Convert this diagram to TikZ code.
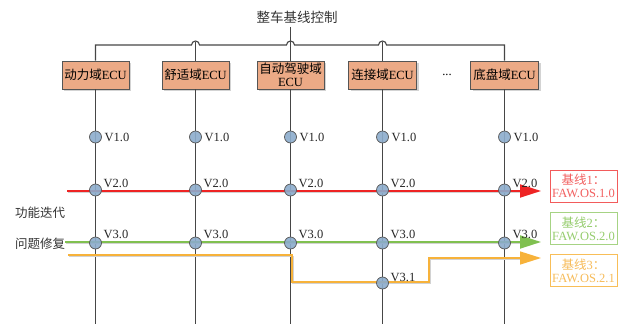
\documentclass[tikz,border=0pt]{standalone}
\usepackage{fontspec}
\setmainfont{Liberation Serif}
\newfontfamily\cjk{Noto Sans CJK SC}
\usetikzlibrary{arrows.meta,shadows}
\definecolor{boxfill}{RGB}{236,170,134}
\definecolor{boxedge}{RGB}{85,85,85}
\definecolor{dotfill}{RGB}{140,172,204}
\definecolor{wirec}{RGB}{70,70,70}
\definecolor{redl}{RGB}{238,36,36}
\definecolor{redt}{RGB}{242,96,96}
\definecolor{greenl}{RGB}{128,192,80}
\definecolor{greent}{RGB}{150,205,110}
\definecolor{orl}{RGB}{247,178,58}
\definecolor{ort}{RGB}{247,188,90}
\tikzset{
  txt/.style={font=\fontsize{12.5}{13}\selectfont},
  ecu/.style={txt, draw=boxedge, fill=boxfill, line width=0.8pt, minimum width=67pt,
    minimum height=28pt, inner sep=0.5pt, align=center,
    drop shadow={shadow xshift=2pt, shadow yshift=-2pt, opacity=0.35, fill=gray}},
  ver/.style={circle, draw=boxedge, line width=0.7pt, fill=dotfill, fill opacity=0.9,
    minimum size=12pt, inner sep=0pt},
  vl/.style={txt, inner sep=0pt, anchor=west, text=black!85},
  wire/.style={draw=wirec, line width=1.1pt},
  basebox/.style={txt, draw, line width=0.9pt, fill=white, minimum width=67pt,
    minimum height=32pt, inner sep=0.5pt, align=center},
  bigtip/.style={-{Triangle[length=21pt,width=13pt]}},
  lshadow/.style={draw=gray!35, line width=1.5pt, transform canvas={xshift=1pt,yshift=-1.5pt}},
}
\begin{document}
\begin{tikzpicture}[x=1pt,y=-1pt]
\useasboundingbox (0,0) rectangle (623,324);
% title
\node[font=\fontsize{13.5}{14}\selectfont\cjk, text=black!80] (title) at (297,17) {整车基线控制};
% ECU boxes
\node[ecu] (e1) at (95.5,75) {{\cjk 动力域}ECU};
\node[ecu] (e2) at (195.5,75) {{\cjk 舒适域}ECU};
\node[ecu] (e3) at (290.5,75) {{\cjk 自动驾驶域}\\ECU};
\node[ecu, minimum width=68pt] (e4) at (382.5,75) {{\cjk 连接域}ECU};
\node[ecu, minimum width=68pt] (e5) at (504.5,75) {{\cjk 底盘域}ECU};
\node[txt] (dots) at (447,75) {...};
% bus with hops
\coordinate (h2a) at (191.5,45); \coordinate (h3a) at (286.5,45); \coordinate (h4a) at (378.5,45);
\draw[wire] (e1.north) -- (e1.north |- h2a) -- (h2a) arc[start angle=180,end angle=360,radius=4]
  -- (h3a) arc[start angle=180,end angle=360,radius=4]
  -- (h4a) arc[start angle=180,end angle=360,radius=4]
  -- (e5.north |- h2a) -- (e5.north);
\draw[wire] (e2.north) -- ([yshift=3.5pt]e2.north |- h2a);
\draw[wire] (e4.north) -- ([yshift=3.5pt]e4.north |- h4a);
\draw[wire] (title.south -| e3.north) -- (e3.north);
% vertical lines
\foreach \i in {1,...,5} {
  \coordinate (bot\i) at (e\i.south |- 0,324);
  \draw[wire] (e\i.south) -- (bot\i);
}
% end points and baseline boxes
\node[basebox, draw=redl!75, text=redt] (b1) at (583.5,186) {{\cjk 基线}1{\cjk ：}\\FAW.OS.1.0};
\node[basebox, draw=greenl!70, text=greent] (b2) at (583.5,228.5) {{\cjk 基线}2{\cjk ：}\\FAW.OS.2.0};
\node[basebox, draw=orl!85, text=ort] (b3) at (583.5,270.5) {{\cjk 基线}3{\cjk ：}\\FAW.OS.2.1};
\coordinate (r0) at (67,191); \coordinate (r1) at (541,191);
\coordinate (g0) at (65,242); \coordinate (g1) at (541,242);
\coordinate (o0) at (68,255); \coordinate (o1) at (292,255); \coordinate (o2) at (292,282);
\coordinate (o3) at (429,282); \coordinate (o4) at (429,258); \coordinate (o5) at (541,258);
% line shadows
\draw[lshadow] (r0) -- (520,191);
\draw[lshadow] (g0) -- (520,242);
\draw[lshadow] (o0) -- (o1) -- (o2) -- (o3) -- (o4) -- (520,258);
% colored lines
\draw[draw=redl, line width=1.8pt, bigtip] (r0) -- (r1);
\draw[draw=greenl, line width=1.8pt, bigtip] (g0) -- (g1);
\draw[draw=orl, line width=1.4pt, bigtip] (o0) -- (o1) -- (o2) -- (o3) -- (o4) -- (o5);
% version dots and labels
\foreach \i in {1,...,5} {
  \node[ver] (a\i) at (e\i.south |- 0,137) {};
  \node[ver] (b\i x) at (e\i.south |- 0,190) {};
  \node[ver] (c\i) at (e\i.south |- 0,243) {};
  \node[vl] (la\i) at ([xshift=9pt]a\i.center) {V1.0};
  \node[vl] (lb\i) at ([xshift=8pt,yshift=7pt]b\i x.center) {V2.0};
  \node[vl] (lc\i) at ([xshift=8pt,yshift=9pt]c\i.center) {V3.0};
}
\node[ver] (d4) at (e4.south |- 0,283) {};
\node[vl] (ld4) at ([xshift=8pt,yshift=6pt]d4.center) {V3.1};
% left labels
\node[txt, font=\fontsize{12.5}{13}\selectfont\cjk, text=black!80] (fl) at (40,213) {功能迭代};
\node[txt, font=\fontsize{12.5}{13}\selectfont\cjk, text=black!80] (ql) at (40,244) {问题修复};
\end{tikzpicture}
\end{document}
